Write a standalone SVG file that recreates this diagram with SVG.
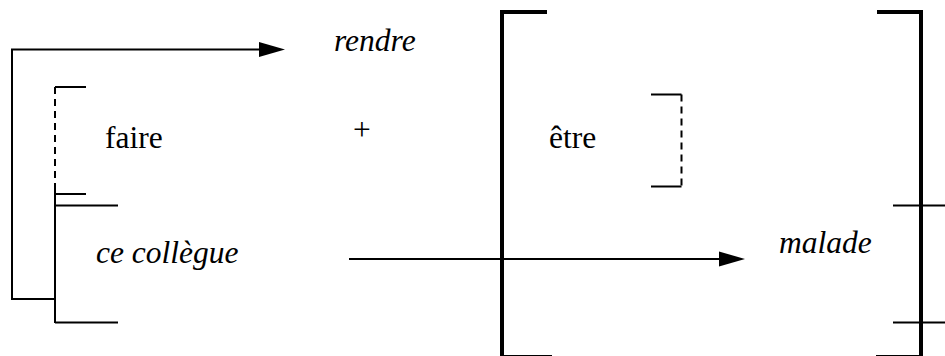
<svg xmlns="http://www.w3.org/2000/svg" width="945" height="356" viewBox="0 0 945 356">
<style>
text{font-family:"Liberation Serif","Times New Roman",serif;font-size:31.5px;fill:#000}
.i{font-style:italic}
.thin{fill:none;stroke:#000;stroke-width:2}
.dash{fill:none;stroke:#000;stroke-width:2;stroke-dasharray:7 5}
.thick{fill:none;stroke:#000;stroke-width:4}
.head{fill:#000}
</style>
<rect width="945" height="356" fill="#fff"/>
<g id="connectors">
<path class="thin" d="M55,299 H12 V49.5 H262"/>
<polygon class="head" points="259,42 285,49.5 259,57"/>
<path class="thin" d="M349,259 H721"/>
<polygon class="head" points="719,251.5 745,259 719,266.5"/>
</g>
<g id="rendre"><text class="i" x="334" y="51">rendre</text></g>
<g id="faire">
<path class="dash" d="M55,87 V184"/>
<path class="thin" d="M86,87 H55 M55,194 H86"/>
<text x="105" y="148">faire</text>
</g>
<g id="ce-collegue">
<path class="thin" d="M55,184 V323 M55,205.5 H118 M55,322.5 H118"/>
<text class="i" x="96" y="263">ce collègue</text>
</g>
<g id="plus"><text x="362" y="140" text-anchor="middle">+</text></g>
<g id="etre-group">
<path class="thick" d="M547,12 H502 V356"/>
<path class="thick" d="M502,357 H552"/>
<path class="thick" d="M877,12 H921 V356"/>
<path class="thick" d="M876,357 H921"/>
<path class="thin" d="M893,205.5 H945 M893,322.5 H945"/>
<path class="thin" d="M651,94.5 H681.5 M651,186.5 H681.5"/>
<path class="dash" d="M681.5,94.5 V186.5"/>
<text x="549" y="148">être</text>
</g>
<g id="malade"><text class="i" x="779" y="253">malade</text></g>
</svg>
